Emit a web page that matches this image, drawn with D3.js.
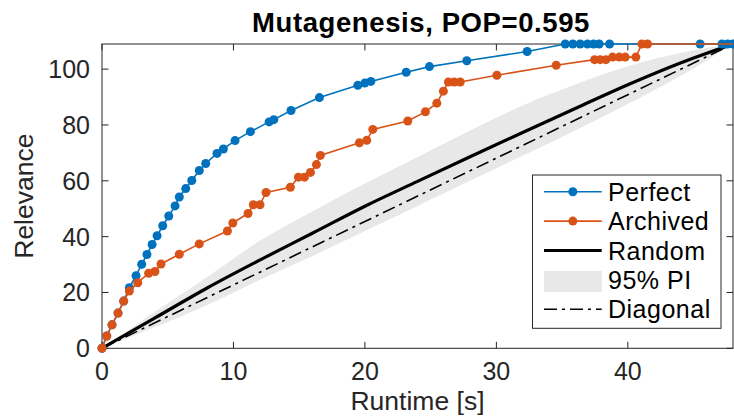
<!DOCTYPE html>
<html>
<head>
<meta charset="utf-8">
<script src="https://cdn.jsdelivr.net/npm/d3@7"></script>
<style>
  body { margin: 0; background: #fff; }
  svg { display: block; font-family: 'Liberation Sans', Arial, Helvetica, sans-serif; }
</style>
</head>
<body>
<svg id="chart" width="734" height="417"></svg>
<script>
// values
const perfectX = [0, 0.36, 0.76, 1.22, 1.65, 2.08, 2.59, 3.02, 3.42, 3.81, 4.19, 4.62, 5.08, 5.56, 5.88, 6.37, 6.83, 7.40, 7.89, 8.75, 9.23, 10.12, 11.29, 12.71, 13.07, 14.38, 16.54, 19.46, 19.99, 20.45, 23.14, 24.91, 27.75, 32.34, 35.24, 35.82, 36.38, 36.93, 37.39, 37.82, 38.61, 45.5, 47.16, 47.59, 48.0];
const perfectY = [0, 4.4, 8.4, 12.6, 16.9, 21.7, 26.0, 30.1, 33.6, 37.2, 40.3, 43.9, 47.4, 51.0, 54.2, 57.2, 60.1, 63.7, 66.2, 69.8, 71.4, 74.4, 77.6, 81.1, 81.9, 85.2, 89.8, 94.2, 95.0, 95.6, 98.9, 100.9, 103.0, 106.3, 109, 109, 109, 109, 109, 109, 109, 109, 109, 109, 109];

const archivedX = [0, 0.36, 0.76, 1.22, 1.65, 2.08, 2.72, 3.55, 4.03, 4.49, 5.88, 7.40, 9.54, 9.95, 11.11, 11.51, 12.02, 12.48, 14.33, 14.94, 15.40, 15.86, 16.31, 16.61, 19.58, 20.14, 20.60, 23.26, 24.60, 25.47, 25.97, 26.35, 26.79, 27.25, 30.04, 34.55, 37.47, 37.90, 38.33, 38.84, 39.35, 39.80, 40.61, 41.07, 41.50, 48.3];
const archivedY = [0, 4.4, 8.4, 12.6, 16.9, 20.5, 23.5, 26.9, 27.5, 30.2, 33.7, 37.4, 42.0, 44.9, 48.3, 51.4, 51.4, 55.8, 57.7, 61.3, 61.3, 63.0, 65.8, 69.1, 73.6, 74.5, 78.4, 81.4, 84.7, 87.8, 92.1, 95.4, 95.4, 95.4, 97.8, 101.4, 103.4, 103.4, 103.4, 104.3, 104.3, 104.3, 104.3, 109, 109, 109];

const randomX = [0, 4, 8, 12, 16, 20, 24, 28, 32, 36, 40, 44, 48];
const randomY = [0, 10.8, 21.6, 31.6, 41.2, 50.9, 59.8, 68.6, 77.3, 85.9, 94.4, 102.2, 109];
const piUpper = [0, 13, 25.5, 38.5, 49, 59, 68.5, 78, 87, 94.5, 101, 105.8, 109];
const piLower = [0, 7.5, 15.5, 24.5, 33, 42, 51, 60, 69, 78, 87.5, 97.5, 109];

const diagonalX = [0, 48];
const diagonalY = [0, 109];

const xTicks = [0, 10, 20, 30, 40];
const yTicks = [0, 20, 40, 60, 80, 100];
const legendNames = ['Perfect', 'Archived', 'Random', '95% PI', 'Diagonal'];

const blue = '#0072bd';
const orange = '#d95319';
const bandColor = '#e8e8e8';
const axisColor = '#262626';
const markerR = 4.5;

const svg = d3.select('#chart');
const plotLeft = 102, plotRight = 733, plotTop = 44, plotBottom = 348.3;

const x = d3.scaleLinear().domain([0, 48]).range([plotLeft, plotRight]);
const y = d3.scaleLinear().domain([0, 109]).range([plotBottom, plotTop]);

svg.append('defs').append('clipPath').attr('id', 'plot-clip')
  .append('rect')
  .attr('x', plotLeft).attr('y', plotTop - 6)
  .attr('width', plotRight - plotLeft).attr('height', plotBottom - plotTop + 12);

const plot = svg.append('g').attr('clip-path', 'url(#plot-clip)');
const markers = svg.append('g');

const toPoints = (xs, ys) => xs.map((v, i) => [v, ys[i]]);
const line = d3.line().x(d => x(d[0])).y(d => y(d[1]));

// 95% prediction interval band
const area = d3.area()
  .x((d, i) => x(randomX[i]))
  .y0((d, i) => y(piLower[i]))
  .y1((d, i) => y(piUpper[i]))
  .curve(d3.curveMonotoneX);

plot.append('path')
  .datum(randomX)
  .attr('d', area)
  .attr('fill', bandColor);

plot.append('path')
  .datum(toPoints(diagonalX, diagonalY))
  .attr('d', line)
  .attr('fill', 'none')
  .attr('stroke', '#000')
  .attr('stroke-width', 1.6)
  .attr('stroke-dasharray', '13,5,3,5');

plot.append('path')
  .datum(toPoints(randomX, randomY))
  .attr('d', line.curve(d3.curveMonotoneX))
  .attr('fill', 'none')
  .attr('stroke', '#000')
  .attr('stroke-width', 3.2);

line.curve(d3.curveLinear);

function drawSeries(xs, ys, color) {
  const pts = toPoints(xs, ys);
  const g = markers.append('g');
  g.append('path')
    .datum(pts)
    .attr('d', line)
    .attr('clip-path', 'url(#plot-clip)')
    .attr('fill', 'none')
    .attr('stroke', color)
    .attr('stroke-width', 1.6);
  // markers are not clipped, only points inside the x range get one
  g.selectAll('circle')
    .data(pts.filter(d => d[0] <= x.domain()[1]))
    .enter()
    .append('circle')
    .attr('cx', d => x(d[0]))
    .attr('cy', d => y(d[1]))
    .attr('r', markerR)
    .attr('fill', color);
}

drawSeries(perfectX, perfectY, blue);
drawSeries(archivedX, archivedY, orange);

// axes box and inward ticks
const axes = svg.insert('g', 'g').attr('stroke', axisColor).attr('stroke-width', 1);
axes.append('rect')
  .attr('x', plotLeft).attr('y', plotTop)
  .attr('width', plotRight - plotLeft).attr('height', plotBottom - plotTop)
  .attr('fill', 'none');

const tickLen = 6.5;
axes.selectAll('.xt')
  .data(xTicks)
  .enter()
  .append('path')
  .attr('d', d => `M${x(d)},${plotBottom}v${-tickLen}M${x(d)},${plotTop}v${tickLen}`);
axes.selectAll('.yt')
  .data(yTicks)
  .enter()
  .append('path')
  .attr('d', d => `M${plotLeft},${y(d)}h${tickLen}M${plotRight},${y(d)}h${-tickLen}`);

svg.selectAll('.xl')
  .data(xTicks)
  .enter()
  .append('text')
  .attr('x', d => x(d))
  .attr('y', 380)
  .attr('text-anchor', 'middle')
  .attr('font-size', 25)
  .attr('fill', axisColor)
  .text(d => d);

svg.selectAll('.yl')
  .data(yTicks)
  .enter()
  .append('text')
  .attr('x', 90)
  .attr('y', d => y(d) + 9)
  .attr('text-anchor', 'end')
  .attr('font-size', 25)
  .attr('fill', axisColor)
  .text(d => d);

svg.append('text')
  .attr('x', (plotLeft + plotRight) / 2)
  .attr('y', 410)
  .attr('text-anchor', 'middle')
  .attr('font-size', 26.5)
  .attr('fill', axisColor)
  .text('Runtime [s]');

svg.append('text')
  .attr('transform', `translate(33,${(plotTop + plotBottom) / 2}) rotate(-90)`)
  .attr('text-anchor', 'middle')
  .attr('font-size', 26.5)
  .attr('fill', axisColor)
  .text('Relevance');

svg.append('text')
  .attr('x', 421)
  .attr('y', 32)
  .attr('text-anchor', 'middle')
  .attr('font-size', 27.5)
  .attr('font-weight', 'bold')
  .attr('letter-spacing', 0.6)
  .attr('fill', '#000')
  .text('Mutagenesis, POP=0.595');

// legend
const legend = svg.append('g');
legend.append('rect')
  .attr('x', 532.5).attr('y', 175)
  .attr('width', 188.5).attr('height', 153.3)
  .attr('fill', '#fff')
  .attr('stroke', axisColor)
  .attr('stroke-width', 1);

const rowY = d3.scalePoint().domain(legendNames).range([191.7, 309.3]);
const sx0 = 544, sx1 = 601.7;

legendNames.forEach(name => {
  const cy = rowY(name);
  const g = legend.append('g');
  if (name === 'Perfect' || name === 'Archived') {
    const c = name === 'Perfect' ? blue : orange;
    g.append('line').attr('x1', sx0).attr('x2', sx1).attr('y1', cy).attr('y2', cy)
      .attr('stroke', c).attr('stroke-width', 1.6);
    g.append('circle').attr('cx', (sx0 + sx1) / 2).attr('cy', cy).attr('r', markerR).attr('fill', c);
  } else if (name === 'Random') {
    g.append('line').attr('x1', sx0).attr('x2', sx1).attr('y1', cy).attr('y2', cy)
      .attr('stroke', '#000').attr('stroke-width', 3.2);
  } else if (name === '95% PI') {
    g.append('rect').attr('x', sx0).attr('y', cy - 9).attr('width', sx1 - sx0).attr('height', 21)
      .attr('fill', bandColor);
  } else {
    g.append('line').attr('x1', sx0).attr('x2', sx1).attr('y1', cy).attr('y2', cy)
      .attr('stroke', '#000').attr('stroke-width', 1.6).attr('stroke-dasharray', '13,5,3,5');
  }
  g.append('text')
    .attr('x', 608)
    .attr('y', cy + 9)
    .attr('font-size', 25)
    .attr('letter-spacing', 0.5)
    .attr('fill', '#000')
    .text(name);
});
</script>
</body>
</html>
